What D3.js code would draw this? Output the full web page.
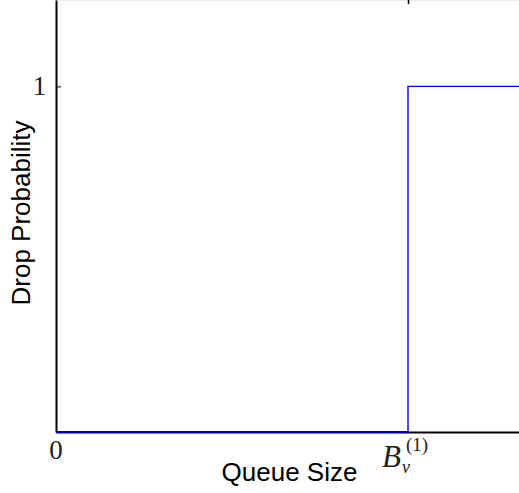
<!DOCTYPE html>
<html>
<head>
<meta charset="utf-8">
<script src="https://cdn.jsdelivr.net/npm/d3@7"></script>
<style>
  body { margin: 0; background: #fff; }
  svg { display: block; }
  .tick-lbl { font-family: "Liberation Serif", "DejaVu Serif", serif; font-size: 27px; fill: #222; }
  .ax-title { font-family: "Liberation Sans", Arial, sans-serif; font-size: 26px; fill: #000; }
</style>
</head>
<body>
<script>
// drop probability step: 0 below the threshold, 1 from it on
var queueSize = [0, 1, 1, 1.4];
var dropProb  = [0, 0, 1, 1];
var xTicks = [0, 1];
var yTicks = [1];
var xTickLabels = ["0", "B"];
var yTickLabels = ["1"];

var width = 519, height = 493;
var svg = d3.select("body").append("svg")
    .attr("width", width).attr("height", height);

var x = d3.scaleLinear().domain([0, 1.4]).range([56, 56 + 1.4 * 352]);
var y = d3.scaleLinear().domain([0, 1.25]).range([432, 0]);

// faint top border of the axes box + the top tick
svg.append("line")
    .attr("x1", 56).attr("x2", width).attr("y1", 0.5).attr("y2", 0.5)
    .attr("stroke", "#ebebeb").attr("stroke-width", 1);

var topAx = svg.append("g").attr("transform", "translate(0," + y(1.25) + ")")
    .call(d3.axisTop(x).tickValues([xTicks[1]]).tickSize(-4).tickFormat(""));
topAx.select(".domain").remove();
topAx.selectAll(".tick line").attr("stroke", "#000").attr("stroke-width", 1.5);

// left axis
var yAx = svg.append("g").attr("transform", "translate(" + x(0) + ",0)")
    .call(d3.axisLeft(y).tickValues(yTicks).tickSize(-5).tickFormat("").tickSizeOuter(0));
yAx.select(".domain").attr("stroke", "#000").attr("stroke-width", 2);
yAx.selectAll(".tick line").attr("stroke", "#000").attr("stroke-width", 1);

// bottom axis
var xAx = svg.append("g").attr("transform", "translate(0," + y(0) + ")")
    .call(d3.axisBottom(x).tickValues(xTicks).tickSize(0).tickFormat("").tickSizeOuter(0));
xAx.select(".domain").attr("stroke", "#000").attr("stroke-width", 2);

// the step line
var line = d3.line()
    .x(function(d, i) { return x(queueSize[i]); })
    .y(function(d) { return y(d); });

svg.append("path")
    .attr("d", line(dropProb))
    .attr("fill", "none")
    .attr("stroke", "#0000ff")
    .attr("stroke-width", 1.4);

// darker blue where the line lies on the axis
svg.append("line")
    .attr("x1", x(queueSize[0])).attr("x2", x(queueSize[1]))
    .attr("y1", y(0)).attr("y2", y(0))
    .attr("stroke", "#0000a8").attr("stroke-width", 2);

// tick labels
svg.append("text").attr("class", "tick-lbl")
    .attr("x", x(xTicks[0])).attr("y", 459).attr("text-anchor", "middle")
    .text(xTickLabels[0]);

svg.append("text").attr("class", "tick-lbl")
    .attr("x", 39.5).attr("y", y(yTicks[0]) + 9).attr("text-anchor", "middle")
    .text(yTickLabels[0]);

// B_v^(1) label, pieces placed one by one
var bx = x(xTicks[1]);
var bl = svg.append("g").attr("class", "tick-lbl");
bl.append("text").attr("x", bx - 26).attr("y", 467)
    .style("font-size", "31px").style("font-style", "italic").text(xTickLabels[1]);
bl.append("text").attr("x", bx - 6).attr("y", 473)
    .style("font-size", "18px").style("font-style", "italic").text("v");
bl.append("text").attr("x", bx - 2).attr("y", 451)
    .style("font-size", "19px").text("(1)");

// axis titles
svg.append("text").attr("class", "ax-title")
    .attr("x", 289.5).attr("y", 481).attr("text-anchor", "middle")
    .text("Queue Size");

svg.append("text").attr("class", "ax-title")
    .attr("transform", "translate(30,213) rotate(-90)")
    .attr("text-anchor", "middle")
    .text("Drop Probability");
</script>
</body>
</html>
